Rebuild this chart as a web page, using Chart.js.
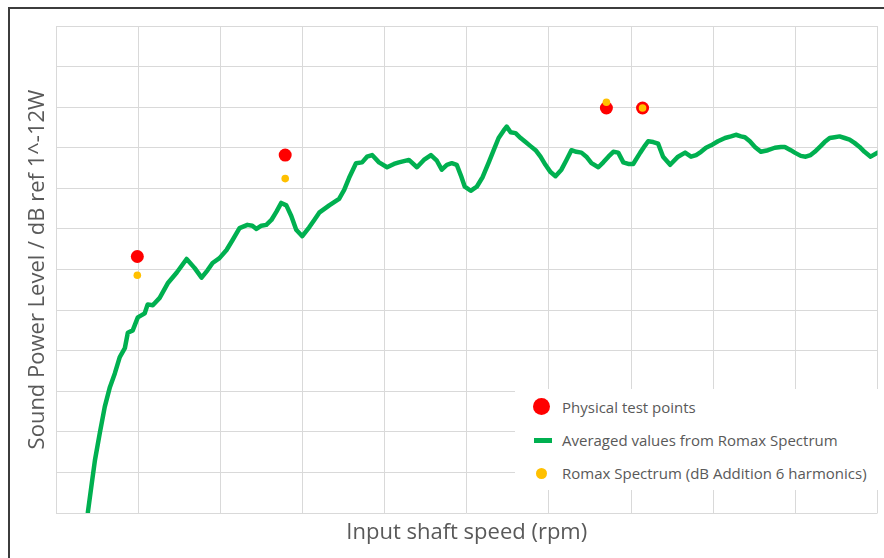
<!DOCTYPE html>
<html>
<head>
<meta charset="utf-8">
<script src="https://cdn.jsdelivr.net/npm/chart.js@4.4.0/dist/chart.umd.min.js"></script>
<style>
  html, body { margin: 0; padding: 0; background: #fff; }
  #wrap { position: relative; width: 884px; height: 558px; overflow: hidden; }
  #frame { position: absolute; left: 8px; top: 7px; width: 900px; height: 600px;
           border-top: 2px solid #3c3c3c; border-left: 2px solid #3c3c3c; }
  #chart { position: absolute; left: 0; top: 0; }
  #legend { position: absolute; left: 515px; top: 389px; width: 366px; height: 101px;
            background: #fff; font-family: "Open Sans", sans-serif; font-size: 15px; color: #595959; }
  .item { position: absolute; left: 0; height: 20px; line-height: 20px; }
  .item span { position: absolute; left: 47px; white-space: nowrap; }
  .mark { position: absolute; }
</style>
</head>
<body>
<div id="wrap">
  <div id="frame"></div>
  <canvas id="chart" width="884" height="558"></canvas>
  <div id="legend"></div>
</div>
<script>
// Averaged values from Romax Spectrum (rpm / dB)
const avgSpeed = [194, 218, 237, 267, 297, 328, 358, 388, 419, 437, 467, 498, 540, 558, 589, 631, 680, 734, 795, 843,
  886, 922, 953, 995, 1038, 1074, 1117, 1165, 1195, 1220, 1250, 1280, 1311, 1341, 1371, 1402, 1432, 1462, 1499, 1541,
  1572, 1602, 1663, 1723, 1754, 1784, 1826, 1863, 1893, 1924, 1966, 2015, 2057, 2087, 2148, 2197, 2239, 2282, 2318, 2348,
  2379, 2409, 2439, 2464, 2488, 2524, 2561, 2597, 2634, 2664, 2694, 2724, 2743, 2767, 2797, 2828, 2858, 2888, 2919, 2949,
  2979, 3010, 3040, 3076, 3107, 3137, 3167, 3198, 3228, 3259, 3301, 3331, 3362, 3392, 3422, 3453, 3483, 3513, 3556, 3586,
  3604, 3635, 3665, 3695, 3738, 3786, 3829, 3865, 3896, 3926, 3956, 3987, 4029, 4072, 4108, 4138, 4169, 4193, 4223, 4254,
  4290, 4333, 4375, 4412, 4436, 4472, 4496, 4533, 4563, 4593, 4618, 4654, 4678, 4709, 4739, 4769, 4800, 4830, 4860, 4891,
  4921, 4958, 5000];
const avgLevel = [30.1, 33.7, 36.5, 39.9, 43.1, 45.5, 47.2, 49.2, 50.3, 52.2, 52.5, 54.1, 54.6, 55.7, 55.6, 56.5, 58.3, 59.6, 61.3, 60.2,
  59.0, 59.9, 60.8, 61.4, 62.4, 63.6, 65.1, 65.5, 65.4, 65.0, 65.4, 65.5, 66.1, 67.1, 68.2, 67.9, 66.6, 64.9, 64.1, 65.2,
  66.1, 67.0, 67.9, 68.7, 69.8, 71.3, 73.1, 73.2, 73.9, 74.1, 73.2, 72.6, 73.0, 73.2, 73.5, 72.6, 73.5, 74.1, 73.4, 72.3,
  72.9, 73.1, 72.9, 71.6, 70.2, 69.7, 70.2, 71.4, 73.2, 74.7, 76.2, 77.1, 77.6, 76.9, 76.8, 76.2, 75.7, 75.2, 74.7, 73.9,
  72.9, 72.0, 71.5, 72.3, 73.5, 74.7, 74.5, 74.4, 73.9, 73.1, 72.6, 73.2, 73.9, 74.5, 74.4, 73.2, 73.0, 73.0, 74.4, 75.3,
  75.8, 75.7, 75.5, 73.9, 72.9, 73.9, 74.4, 73.9, 74.1, 74.5, 75.0, 75.3, 75.8, 76.2, 76.4, 76.6, 76.4, 76.3, 75.8, 75.1,
  74.5, 74.7, 75.0, 75.1, 75.1, 74.7, 74.4, 74.0, 73.9, 74.1, 74.5, 75.2, 75.7, 76.2, 76.3, 76.4, 76.2, 76.0, 75.6, 75.1,
  74.5, 73.9, 74.4];

// Physical test points
const testSpeed = [495, 1395, 3350, 3570];
const testLevel = [61.6, 74.1, 79.9, 79.9];

// Romax Spectrum (dB Addition 6 harmonics)
const romaxSpeed = [495, 1395, 3350, 3570];
const romaxLevel = [59.3, 71.2, 80.6, 79.9];

const labels = ["Physical test points", "Averaged values from Romax Spectrum", "Romax Spectrum (dB Addition 6 harmonics)"];

function toXY(xs, ys) {
  return xs.map(function (x, i) { return { x: x, y: ys[i] }; });
}

const red = "#FF0000";
const green = "#00B050";
const gold = "#FFC000";
const textColor = "#595959";

const ctx = document.getElementById("chart").getContext("2d");
const chart = new Chart(ctx, {
  type: "scatter",
  data: {
    datasets: [
      {
        label: labels[0],
        data: toXY(testSpeed, testLevel),
        backgroundColor: red,
        borderColor: red,
        pointRadius: 6.5,
        pointBorderWidth: 0,
        order: 2,
      },
      {
        label: labels[1],
        data: toXY(avgSpeed, avgLevel),
        showLine: true,
        borderColor: green,
        borderWidth: 4.5,
        pointRadius: 0,
        tension: 0,
        borderJoinStyle: "round",
        borderCapStyle: "round",
        order: 3,
      },
      {
        label: labels[2],
        data: toXY(romaxSpeed, romaxLevel),
        backgroundColor: gold,
        borderColor: gold,
        pointRadius: 3.8,
        pointBorderWidth: 0,
        order: 1,
      },
    ],
  },
  options: {
    responsive: false,
    animation: false,
    layout: { padding: { left: 25, top: 26, right: 4, bottom: 11.8 } },
    plugins: { legend: { display: false }, tooltip: { enabled: false } },
    scales: {
      x: {
        type: "linear",
        min: 0,
        max: 5000,
        ticks: { display: false, stepSize: 500 },
        grid: { color: "#D9D9D9", drawTicks: false },
        border: { display: false },
        title: {
          display: true,
          text: "Input shaft speed (rpm)",
          color: textColor,
          font: { family: "Open Sans", size: 22 },
          padding: { top: 6.8, bottom: 0 },
        },
      },
      y: {
        min: 30,
        max: 90,
        ticks: { display: false, stepSize: 5 },
        grid: { color: "#D9D9D9", drawTicks: false },
        border: { display: false },
        title: {
          display: true,
          text: "Sound Power Level / dB ref 1^-12W",
          color: textColor,
          font: { family: "Open Sans", size: 22 },
          padding: { top: 0, bottom: 4.6 },
        },
      },
    },
  },
});

// Legend drawn inside the plot area, like the original
const legend = document.getElementById("legend");
const rows = [
  { top: 8, mark: "left:18px;top:1px;width:17px;height:17px;border-radius:50%;background:" + red },
  { top: 41, mark: "left:19px;top:8px;width:18px;height:5px;background:" + green },
  { top: 74, mark: "left:21px;top:5px;width:11px;height:11px;border-radius:50%;background:" + gold },
];
chart.data.datasets.forEach(function (ds, i) {
  const item = document.createElement("div");
  item.className = "item";
  item.style.top = rows[i].top + "px";
  item.innerHTML = '<div class="mark" style="' + rows[i].mark + '"></div><span>' + ds.label + "</span>";
  legend.appendChild(item);
});
</script>
</body>
</html>
